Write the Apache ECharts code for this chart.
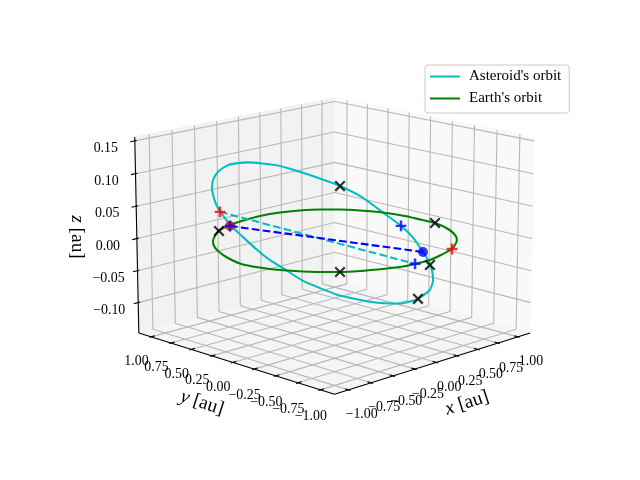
<!DOCTYPE html><html><head><meta charset="utf-8"><script src="https://cdn.jsdelivr.net/npm/echarts@6/dist/echarts.min.js"></script></head><body style="margin:0;background:#fff"><div id="c" style="width:640px;height:480px"></div>
<script>
// ---- data (x, y, z in au) ----
const earthOrbit=[[-0.741,0.676,0],[-0.590,0.805,0],[-0.493,0.874,0],[-0.301,0.947,0],[-0.094,0.984,0],[0.093,0.996,0],[0.300,0.964,0],[0.472,0.894,0],[0.620,0.797,0],[0.742,0.675,0],[0.839,0.527,0],[0.928,0.337,0],[0.971,0.117,0],[0.972,-0.058,0],[0.973,-0.231,0],[0.900,-0.447,0],[0.792,-0.625,0],[0.681,-0.747,0],[0.549,-0.845,0],[0.420,-0.919,0],[0.217,-0.984,0],[0.058,-1.022,0],[-0.116,-1.021,0],[-0.266,-0.999,0],[-0.371,-0.957,0],[-0.575,-0.859,0],[-0.708,-0.769,0],[-0.819,-0.658,0],[-0.937,-0.497,0],[-1.035,-0.315,0],[-1.093,-0.065,0],[-1.042,0.166,0],[-0.951,0.385,0],[-0.848,0.552,0],[-0.741,0.676,0]];
const asteroidOrbit=[[-0.301,0.947,0],[-0.320,1.062,0.021],[-0.325,1.106,0.033],[-0.322,1.144,0.053],[-0.313,1.141,0.065],[-0.292,1.099,0.079],[-0.258,1.010,0.091],[-0.229,0.918,0.096],[-0.200,0.826,0.099],[-0.162,0.695,0.100],[-0.120,0.546,0.100],[-0.077,0.387,0.096],[-0.028,0.200,0.090],[0.033,-0.031,0.081],[0.085,-0.245,0.068],[0.126,-0.433,0.050],[0.163,-0.601,0.034],[0.186,-0.714,0.019],[0.201,-0.812,0],[0.209,-0.872,-0.013],[0.211,-0.904,-0.025],[0.206,-0.921,-0.039],[0.190,-0.903,-0.054],[0.152,-0.807,-0.070],[0.101,-0.654,-0.081],[0.062,-0.523,-0.084],[0.023,-0.390,-0.085],[-0.020,-0.236,-0.084],[-0.060,-0.090,-0.082],[-0.102,0.068,-0.076],[-0.143,0.228,-0.069],[-0.179,0.383,-0.057],[-0.217,0.547,-0.045],[-0.246,0.675,-0.032],[-0.281,0.846,-0.012],[-0.301,0.947,0]];
const blackCrosses=[[-0.505,0.861,0],[0.973,-0.231,0],[-0.708,-0.769,0],[-0.054,-1.125,0],[0.033,-0.031,0.081],[0.152,-0.807,-0.070]];
const redPluses=[[-0.319,1.051,0.018],[0.437,-0.914,0]];
const bluePluses=[[0.163,-0.601,0.034],[0.171,-0.753,-0.019],[-0.325,0.921,0]];
const redDots=[[-0.325,0.921,0]];
const blueDots=[[0.201,-0.812,0]];
const dashedCyan=[[-0.319,1.051,0.018],[0.171,-0.753,-0.019]];
const dashedBlue=[[-0.325,0.921,0],[0.201,-0.812,0]];
const xTicks=[-1,-.75,-.5,-.25,0,.25,.5,.75,1];
const yTicks=[-1,-.75,-.5,-.25,0,.25,.5,.75,1];
const zTicks=[-.1,-.05,0,.05,.1,.15];
const xLabels=['−1.00','−0.75','−0.50','−0.25','0.00','0.25','0.50','0.75','1.00'];
const yLabels=['−1.00','−0.75','−0.50','−0.25','0.00','0.25','0.50','0.75','1.00'];
const zLabels=['−0.10','−0.05','0.00','0.05','0.10','0.15'];
// ---- 3D view ----
const E=14.5*Math.PI/180,h=.5715,hz=.414,D=10,f=2446,cx=334.5,cy=236,L=1.155,zMin=-.148,zMax=.156,zm=(zMin+zMax)/2,zh=(zMax-zMin)/2;
const s=.7071,cam=[-s*Math.cos(E),-s*Math.cos(E),Math.sin(E)],rr=[s,-s,0],up=[s*Math.sin(E),s*Math.sin(E),Math.cos(E)];
const dot=(a,b)=>a[0]*b[0]+a[1]*b[1]+a[2]*b[2];
function proj(x,y,z){const p=[x/L*h,y/L*h,(z-zm)/zh*hz],w=D-dot(p,cam);return [cx+f*dot(p,rr)/w,cy-f*dot(p,up)/w];}
const P3=a=>proj(a[0],a[1],a[2]);
const lineSer=(name,pts,color,width,type,z)=>({name,type:'line',data:pts,symbol:'none',silent:true,animation:false,z:z||2,lineStyle:{color,width,type:type||'solid'},itemStyle:{color},clip:false});
const series=[];
const poly=(pts,color)=>({type:'custom',silent:true,animation:false,z:1,data:[0],clip:false,renderItem:(p,api)=>({type:'polygon',shape:{points:pts.map(q=>api.coord(q))},style:{fill:color,stroke:color,lineWidth:1}})});
series.push(poly([[-L,L,zMin],[L,L,zMin],[L,L,zMax],[-L,L,zMax]].map(P3),'#f2f2f2'));
series.push(poly([[L,L,zMin],[L,-L,zMin],[L,-L,zMax],[L,L,zMax]].map(P3),'#f9f9f9'));
series.push(poly([[-L,-L,zMin],[L,-L,zMin],[L,L,zMin],[-L,L,zMin]].map(P3),'#f5f5f5'));
const gc='#b8b8b8',gw=1.1;
xTicks.forEach(v=>series.push(lineSer('gx',[proj(v,-L,zMin),proj(v,L,zMin),proj(v,L,zMax)],gc,gw)));
yTicks.forEach(v=>series.push(lineSer('gy',[proj(-L,v,zMin),proj(L,v,zMin),proj(L,v,zMax)],gc,gw)));
zTicks.forEach(v=>series.push(lineSer('gz',[proj(-L,L,v),proj(L,L,v),proj(L,-L,v)],gc,gw)));
const ax='#000',aw=1.1;
series.push(lineSer('ax',[proj(-L,-L,zMin),proj(L,-L,zMin)],ax,aw,0,3));
series.push(lineSer('ay',[proj(-L,L,zMin),proj(-L,-L,zMin)],ax,aw,0,3));
series.push(lineSer('az',[proj(-L,L,zMin),proj(-L,L,zMax)],ax,aw,0,3));
xTicks.forEach(v=>series.push(lineSer('t',[proj(v,-L-.02,zMin),proj(v,-L+.04,zMin)],ax,aw,0,3)));
yTicks.forEach(v=>series.push(lineSer('t',[proj(-L-.02,v,zMin),proj(-L+.04,v,zMin)],ax,aw,0,3)));
zTicks.forEach(v=>series.push(lineSer('t',[proj(-L-.05,L,v),proj(-L+.02,L,v)],ax,aw,0,3)));
const serif='"Liberation Serif"';
const txt=(pts)=>({type:'custom',silent:true,animation:false,z:6,clip:false,data:pts.map((_,i)=>i),renderItem:(p,api)=>{const t=pts[api.value(0)],c=api.coord([t.x,t.y]);return {type:'text',x:c[0],y:c[1],rotation:t.r||0,style:Object.assign({text:t.t,align:'center',verticalAlign:'middle',fill:'#000',font:(t.size||13.9)+'px '+serif},t.rich?{rich:t.rich}:{})};}});
const rich={i:{fontFamily:'Liberation Serif',fontStyle:'italic',fontSize:19.4,color:'#000'},r:{fontFamily:'Liberation Serif',fontSize:19.4,color:'#000'}};
const labels=[];
xTicks.forEach((v,i)=>{const q=proj(v,-L,zMin);labels.push({x:q[0]+13,y:q[1]+25,t:xLabels[i]});});
yTicks.forEach((v,i)=>{const q=proj(-L,v,zMin);labels.push(v>=0?{x:q[0]-14.5,y:q[1]+24.5,t:yLabels[i]}:{x:q[0]-9.5,y:q[1]+26.5,t:yLabels[i]});});
zTicks.forEach((v,i)=>{const q=proj(-L,L,v);labels.push({x:q[0]-29,y:q[1]+7.5,t:zLabels[i]});});
labels.push({x:467,y:403,t:'{i|x} {r|[au]}',r:18*Math.PI/180,rich,size:19.4});
labels.push({x:202,y:403,t:'{i|y} {r|[au]}',r:-18*Math.PI/180,rich,size:19.4});
labels.push({x:77,y:237,t:'{i|z} {r|[au]}',r:-Math.PI/2,rich,size:19.4});
series.push(txt(labels));
series.push(Object.assign(lineSer("Asteroid's orbit",asteroidOrbit.map(P3),'#00bfbf',2.08,0,4),{smooth:.2}));
series.push(Object.assign(lineSer("Earth's orbit",earthOrbit.map(P3),'#008000',2.08,0,4),{smooth:.2}));
series.push(lineSer('dc',dashedCyan.map(P3),'#00bfbf',2.08,[7.7,3.3],4));
series.push(lineSer('db',dashedBlue.map(P3),'#0000ff',2.08,[7.7,3.3],4));
const plus='path://M-1.2,-5.3H1.2V-1.2H5.3V1.2H1.2V5.3H-1.2V1.2H-5.3V-1.2H-1.2Z';
const cross='path://M-4,-5.6L0,-1.6L4,-5.6L5.6,-4L1.6,0L5.6,4L4,5.6L0,1.6L-4,5.6L-5.6,4L-1.6,0L-5.6,-4Z';
const sc=(name,pts,symbol,size,color,z)=>({name,type:'scatter',data:pts.map(P3),symbol,symbolSize:size,itemStyle:{color},silent:true,animation:false,z:z||5,clip:false});
series.push(sc('redDot',redDots,'circle',9.8,'#ff0000'));
series.push(sc('blueDot',blueDots,'circle',9.8,'#0000ff'));
series.push(sc('redPlus',redPluses,plus,10.8,'#ff0000'));
series.push(sc('bluePlus',bluePluses,plus,10.8,'#0000ff'));
series.push(sc('blackX',blackCrosses,cross,11.2,'#000000'));
const ch=echarts.init(document.getElementById('c'),null,{renderer:'canvas'});
ch.setOption({animation:false,backgroundColor:'#fff',grid:{left:0,right:0,top:0,bottom:0},
xAxis:{type:'value',min:0,max:640,show:false},yAxis:{type:'value',min:0,max:480,inverse:true,show:false},
legend:{data:["Asteroid's orbit","Earth's orbit"],itemStyle:{opacity:0},orient:'vertical',left:425,top:65,padding:[4,8,7,4],itemWidth:30,itemHeight:14,itemGap:7,textStyle:{fontFamily:'Liberation Serif',fontSize:15,color:'#000',padding:[0,0,0,4]},backgroundColor:'rgba(255,255,255,0.8)',borderColor:'#cccccc',borderWidth:1,borderRadius:3,selectedMode:false,z:10},
series});
</script></body></html>
